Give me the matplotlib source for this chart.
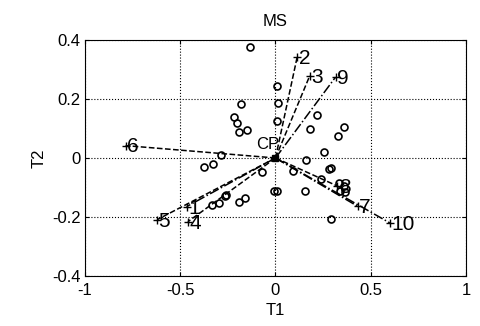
import matplotlib
matplotlib.use('Agg')
import matplotlib.pyplot as plt

plt.rcParams['font.family'] = ['Liberation Sans', 'DejaVu Sans']

# scores (open circles)
pts_x = [-0.136, 0.009, -0.18, 0.012, 0.219, 0.009, -0.219, -0.201, -0.193, -0.152,
         0.18, 0.362, 0.327, 0.254, 0.161, 0.093, 0.283, 0.289, 0.24, 0.154,
         0.332, 0.358, 0.341, 0.367, 0.292, -0.008, 0.008, -0.285, -0.376, -0.329,
         -0.07, -0.266, -0.26, -0.332, -0.297, -0.193, -0.161]
pts_y = [0.377, 0.243, 0.183, 0.186, 0.146, 0.126, 0.138, 0.118, 0.087, 0.095,
         0.098, 0.106, 0.076, 0.019, -0.006, -0.043, -0.037, -0.034, -0.071, -0.111,
         -0.086, -0.096, -0.111, -0.116, -0.207, -0.111, -0.111, 0.01, -0.032, -0.02,
         -0.049, -0.128, -0.124, -0.159, -0.153, -0.148, -0.136]

# loading vectors
vec_names = ['1', '2', '3', '4', '5', '6', '7', '8', '9', '10']
vec_x = [-0.467, 0.114, 0.18, -0.46, -0.621, -0.787, 0.432, 0.325, 0.315, 0.6]
vec_y = [-0.165, 0.343, 0.279, -0.216, -0.209, 0.042, -0.164, -0.095, 0.274, -0.22]
vec_style = ['-.', '--', '--', '--', '--', '--', '-.', '--', '-.', '-.']

fig = plt.figure(figsize=(4.81, 3.26), dpi=100)
ax = fig.add_axes([0.1767, 0.1534, 0.7921, 0.7239])

ax.plot(pts_x, pts_y, 'o', mfc='none', mec='k', ms=5, mew=1.2)

for i in range(len(vec_names)):
    ax.plot([0, vec_x[i]], [0, vec_y[i]], color='k', ls=vec_style[i], lw=1.1)
    ax.plot(vec_x[i], vec_y[i], '+', color='k', ms=6, mew=1)
    ax.annotate(vec_names[i], xy=(vec_x[i], vec_y[i]), xytext=(1, -1),
                textcoords='offset points', ha='left', va='center', fontsize=15)

ax.plot(0, 0, 's', color='k', ms=4)
ax.text(-0.1, 0.045, 'CP', fontsize=12, ha='left', va='center')

ax.set_xlim(-1, 1)
ax.set_ylim(-0.4, 0.4)
ax.set_xticks([-1, -0.5, 0, 0.5, 1])
ax.set_xticklabels(['-1', '-0.5', '0', '0.5', '1'])
ax.set_yticks([-0.4, -0.2, 0, 0.2, 0.4])
ax.set_yticklabels(['-0.4', '-0.2', '0', '0.2', '0.4'])
ax.tick_params(direction='in', length=3, labelsize=12, top=True, right=True)
ax.tick_params(axis='x', pad=5)
ax.tick_params(axis='y', pad=3)
ax.grid(True, color='k', ls=':', lw=0.8)
for s in ax.spines.values():
    s.set_linewidth(0.8)

ax.set_title('MS', fontsize=12, pad=10)
ax.set_xlabel('T1', fontsize=12, labelpad=4)
ax.set_ylabel('T2', fontsize=12, labelpad=4)

fig.savefig('out.png', dpi=100)
